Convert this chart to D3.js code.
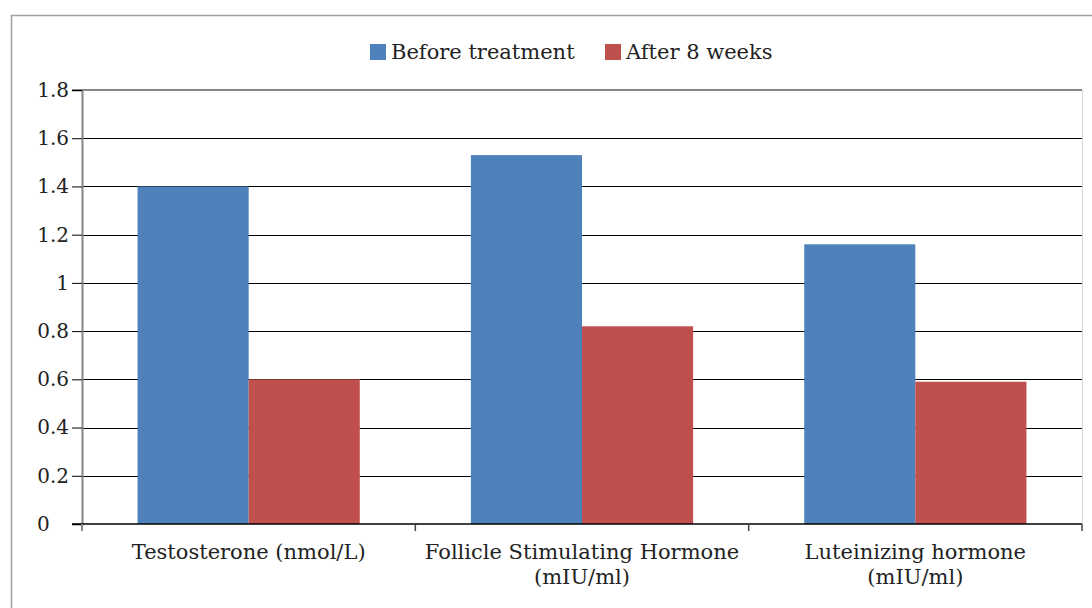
<!DOCTYPE html>
<html><head><meta charset="utf-8">
<script src="https://cdn.jsdelivr.net/npm/d3@7"></script>
<style>body{margin:0;background:#fff}svg{display:block}text{font-family:"DejaVu Serif",serif;fill:#222}</style>
</head><body><svg id="c" width="1092" height="608"></svg>
<script>
const categories = [["Testosterone (nmol/L)"], ["Follicle Stimulating Hormone", "(mIU/ml)"], ["Luteinizing hormone", "(mIU/ml)"]];
const seriesNames = ["Before treatment", "After 8 weeks"];
const beforeValues = [1.40, 1.53, 1.16];
const afterValues = [0.60, 0.82, 0.59];
const yTicks = [0, 0.2, 0.4, 0.6, 0.8, 1, 1.2, 1.4, 1.6, 1.8];
const colors = ["#4F81BD", "#C0504D"];

const svg = d3.select("#c");
const L = 82, R = 1082, T = 90, B = 524;
svg.append("rect").attr("x", 11.5).attr("y", 15.5).attr("width", 1200).attr("height", 800)
  .attr("fill", "none").attr("stroke", "#a0a0a0").attr("stroke-width", 1.5);

const x0 = d3.scaleBand().domain(d3.range(categories.length)).range([L, R]).paddingInner(0).paddingOuter(0);
const x1 = d3.scaleBand().domain([0, 1]).range([0, x0.bandwidth()]).paddingOuter(0.5).paddingInner(0);
const y = d3.scaleLinear().domain([0, 1.8]).range([B, T]);

svg.append("g").selectAll("line").data(yTicks.filter(d => d > 0 && d < 1.8)).join("line")
  .attr("x1", L).attr("x2", R).attr("y1", d => Math.round(y(d)) + 0.5).attr("y2", d => Math.round(y(d)) + 0.5)
  .attr("stroke", "#000").attr("stroke-width", 1);
svg.append("line").attr("x1", L - 10).attr("x2", R).attr("y1", y(1.8)).attr("y2", y(1.8))
  .attr("stroke", "#868686").attr("stroke-width", 2);
svg.append("line").attr("x1", R + 0.5).attr("x2", R + 0.5).attr("y1", T).attr("y2", B)
  .attr("stroke", "#d9d9d9").attr("stroke-width", 1);

const series = [beforeValues, afterValues];
series.forEach((vals, s) => {
  svg.append("g").selectAll("rect").data(vals).join("rect")
    .attr("x", (d, i) => x0(i) + x1(s)).attr("width", x1.bandwidth())
    .attr("y", d => y(d)).attr("height", d => y(0) - y(d))
    .attr("fill", colors[s]);
});

const yAxis = d3.axisLeft(y).tickValues(yTicks).tickSize(10).tickPadding(3)
  .tickFormat(d => d3.format("")(+d.toFixed(1)));
const gy = svg.append("g").attr("transform", `translate(${L},0)`).call(yAxis);
gy.select(".domain").attr("stroke", "#868686").attr("stroke-width", 2);
gy.selectAll(".tick line").attr("stroke", "#000");
gy.selectAll("text").attr("font-size", 20).attr("font-family", "DejaVu Serif").attr("fill", "#222");
gy.selectAll(".tick").filter(d => d === 0).select("text").attr("x", -(L - 37)).attr("text-anchor", "start");

svg.append("line").attr("x1", L - 10).attr("x2", R).attr("y1", B).attr("y2", B).attr("stroke", "#000").attr("stroke-width", 1.5);
svg.append("g").selectAll("line").data(d3.range(categories.length + 1)).join("line")
  .attr("x1", i => i < categories.length ? x0(i) : R).attr("x2", i => i < categories.length ? x0(i) : R)
  .attr("y1", B).attr("y2", B + 7).attr("stroke", i => i === 0 ? "#868686" : "#444").attr("stroke-width", i => i === 0 ? 2 : 1.5);

const lab = svg.append("g").selectAll("text").data(categories).join("text")
  .attr("x", (d, i) => x0(i) + x0.bandwidth() / 2).attr("y", 559)
  .attr("text-anchor", "middle").attr("font-size", 21);
lab.selectAll("tspan").data(d => d).join("tspan")
  .attr("x", function () { return this.parentNode.getAttribute("x"); })
  .attr("dy", (d, i) => i === 0 ? 0 : 25).text(d => d);

const lg = svg.append("g");
const legX = [370, 605];
seriesNames.forEach((n, i) => {
  lg.append("rect").attr("x", legX[i]).attr("y", 44).attr("width", 16).attr("height", 16).attr("fill", colors[i]);
  lg.append("text").attr("x", legX[i] + 21).attr("y", 59).attr("font-size", 21).text(n);
});
</script></body></html>
